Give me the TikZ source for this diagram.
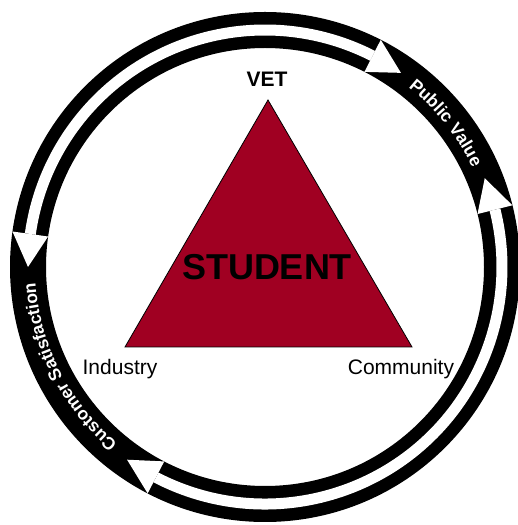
\documentclass[tikz,border=0pt]{standalone}
\usepackage{fontspec}
\setmainfont{Liberation Sans}
\usetikzlibrary{decorations.text}
\definecolor{tri}{RGB}{160,0,34}
\tikzset{
  ringtext/.style={decorate, decoration={text along path, text align=center, text={#1}}},
  stripe/.style={white, line width=11pt, line cap=butt},
  headfill/.style={fill=white},
}
\newcommand{\ringfont}{\bfseries\fontsize{17.5}{18}\selectfont\color{white}}
\begin{document}
\begin{tikzpicture}[x=1pt,y=1pt]
\useasboundingbox (0,0) rectangle (518,525);
\fill[white] (0,0) rectangle (518,525);
\coordinate (C) at (265,258);
% ring
\fill[black, even odd rule] (C) circle[radius=255] (C) circle[radius=219];
% white stripes
\draw[stripe] ([shift={(63:237)}]C) arc[start angle=63, end angle=172, radius=237];
\draw[stripe] ([shift={(242.6:237)}]C) arc[start angle=242.6, end angle=374, radius=237];
% arrow heads
\path[headfill] ([shift={(63:255)}]C) -- ([shift={(63:219)}]C) -- ([shift={(55:237)}]C) -- cycle;
\path[headfill] ([shift={(172:255)}]C) -- ([shift={(172:219)}]C) -- ([shift={(180:237)}]C) -- cycle;
\path[headfill] ([shift={(242.6:255)}]C) -- ([shift={(242.6:219)}]C) -- ([shift={(234.4:237)}]C) -- cycle;
\path[headfill] ([shift={(14:255)}]C) -- ([shift={(14:219)}]C) -- ([shift={(22:237)}]C) -- cycle;
% ring texts
\path[ringtext={|\ringfont|Public Value}] ([shift={(55:230)}]C) arc[start angle=55, end angle=22, radius=230];
\path[ringtext={|\ringfont|Customer Satisfaction}] ([shift={(233:230)}]C) arc[start angle=233, end angle=181, radius=230];
% triangle
\coordinate (apex) at (268,425);
\coordinate (bl) at (125,178);
\coordinate (br) at (412,178);
\filldraw[fill=tri, draw=black, line width=0.8pt] (apex) -- (bl) -- (br) -- cycle;
% labels
\node[anchor=base, inner sep=0pt, font=\bfseries\fontsize{21}{22}\selectfont] (vet) at (267,438) {VET};
\node[anchor=base, inner sep=0pt, font=\fontsize{21}{22}\selectfont] (ind) at (120,150) {Industry};
\node[anchor=base, inner sep=0pt, font=\fontsize{21}{22}\selectfont] (com) at (401,150) {Community};
\node[anchor=base, inner sep=0pt, font=\bfseries\fontsize{36}{40}\selectfont] (stu) at (267,245) {STUDENT};
\end{tikzpicture}
\end{document}
